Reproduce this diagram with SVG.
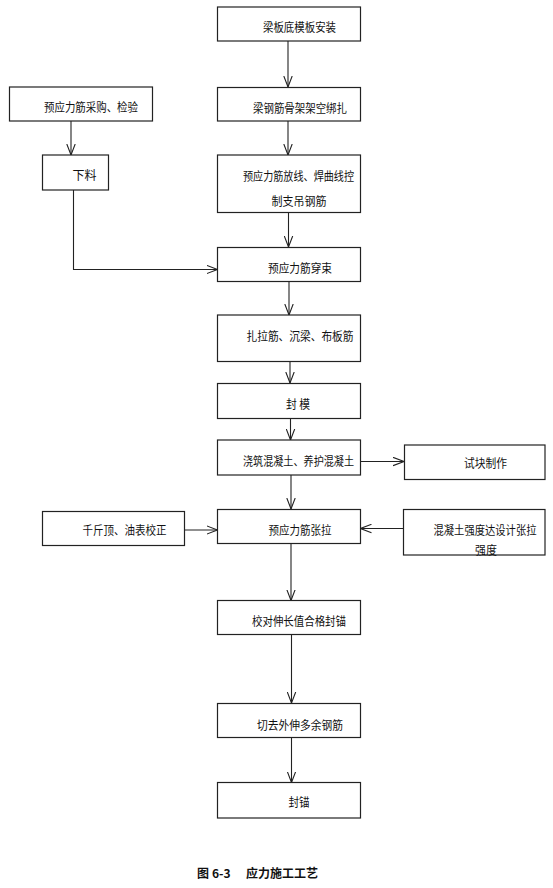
<svg xmlns="http://www.w3.org/2000/svg" width="553" height="888" viewBox="0 0 553 888">
<defs>
<style>
.box{fill:#fff;stroke:#222;stroke-width:1.2}
.t{font-family:"Noto Sans CJK SC","Liberation Sans",sans-serif;font-size:12px;fill:#111}
.c{fill:none;stroke:#222;stroke-width:1.1}
.cap{font-family:"Noto Sans CJK SC","Liberation Sans",sans-serif;font-size:12px;font-weight:bold;fill:#111}
</style>
<marker id="ah" viewBox="0 0 12 10" refX="11" refY="5" markerWidth="12" markerHeight="10" markerUnits="userSpaceOnUse" orient="auto">
<path d="M0,0.8 L11,5 L0,9.2" fill="none" stroke="#222" stroke-width="1.1"/>
</marker>
</defs>
<rect width="553" height="888" fill="#fff"/>
<g id="connectors">
<line class="c" x1="288" y1="41" x2="288" y2="87" marker-end="url(#ah)"/>
<line class="c" x1="71" y1="121" x2="71" y2="155" marker-end="url(#ah)"/>
<line class="c" x1="288" y1="121" x2="288" y2="155" marker-end="url(#ah)"/>
<line class="c" x1="288.5" y1="212.5" x2="288.5" y2="247" marker-end="url(#ah)"/>
<polyline class="c" points="73.5,190 73.5,269.5 217.5,269.5" marker-end="url(#ah)"/>
<line class="c" x1="289" y1="282" x2="289" y2="315" marker-end="url(#ah)"/>
<line class="c" x1="290" y1="362" x2="290" y2="383" marker-end="url(#ah)"/>
<line class="c" x1="290.5" y1="418.5" x2="290.5" y2="440" marker-end="url(#ah)"/>
<line class="c" x1="361" y1="461.5" x2="404" y2="461.5" marker-end="url(#ah)"/>
<line class="c" x1="291" y1="475" x2="291" y2="509" marker-end="url(#ah)"/>
<line class="c" x1="184.5" y1="530" x2="217.5" y2="530" marker-end="url(#ah)"/>
<line class="c" x1="403.5" y1="528.5" x2="360.5" y2="528.5" marker-end="url(#ah)"/>
<line class="c" x1="291" y1="543.5" x2="291" y2="600.5" marker-end="url(#ah)"/>
<line class="c" x1="291.5" y1="634.5" x2="291.5" y2="703" marker-end="url(#ah)"/>
<line class="c" x1="291.5" y1="738" x2="291.5" y2="782.5" marker-end="url(#ah)"/>
</g>
<g id="n1"><rect class="box" x="217.5" y="7" width="143" height="34"/><text class="t" x="263" y="31.5" textLength="73" lengthAdjust="spacingAndGlyphs">梁板底模板安装</text></g>
<g id="n2"><rect class="box" x="217.5" y="87.5" width="143" height="33.5"/><text class="t" x="253" y="112.5" textLength="94" lengthAdjust="spacingAndGlyphs">梁钢筋骨架架空绑扎</text></g>
<g id="n3"><rect class="box" x="9.5" y="87" width="143" height="34"/><text class="t" x="44" y="111.5" textLength="94" lengthAdjust="spacingAndGlyphs">预应力筋采购、检验</text></g>
<g id="n4"><rect class="box" x="42.5" y="155" width="66" height="35"/><text class="t" x="72.5" y="179.5" textLength="24" lengthAdjust="spacingAndGlyphs">下料</text></g>
<g id="n5"><rect class="box" x="217.5" y="155" width="143" height="57.5"/><text class="t" x="243" y="180.5" textLength="111" lengthAdjust="spacingAndGlyphs">预应力筋放线、焊曲线控</text><text class="t" x="271.5" y="205.5" textLength="55" lengthAdjust="spacingAndGlyphs">制支吊钢筋</text></g>
<g id="n6"><rect class="box" x="217.5" y="247.5" width="143" height="34"/><text class="t" x="268" y="272.5" textLength="64" lengthAdjust="spacingAndGlyphs">预应力筋穿束</text></g>
<g id="n7"><rect class="box" x="217.5" y="315" width="143" height="46.5"/><text class="t" x="246.5" y="340.5" textLength="107" lengthAdjust="spacingAndGlyphs">扎拉筋、沉梁、布板筋</text></g>
<g id="n8"><rect class="box" x="217.5" y="383.5" width="143" height="35"/><text class="t" x="286" y="408.5" textLength="24" lengthAdjust="spacingAndGlyphs">封 模</text></g>
<g id="n9"><rect class="box" x="217.5" y="440" width="143" height="35"/><text class="t" x="243" y="466" textLength="111" lengthAdjust="spacingAndGlyphs">浇筑混凝土、养护混凝土</text></g>
<g id="n10"><rect class="box" x="404.5" y="445" width="140.5" height="34.5"/><text class="t" x="464" y="467.5" textLength="43" lengthAdjust="spacingAndGlyphs">试块制作</text></g>
<g id="n11"><rect class="box" x="42.5" y="511.5" width="142" height="34"/><text class="t" x="82.5" y="534.5" textLength="84" lengthAdjust="spacingAndGlyphs">千斤顶、油表校正</text></g>
<g id="n12"><rect class="box" x="217.5" y="509.5" width="143" height="34"/><text class="t" x="268.5" y="534.5" textLength="63" lengthAdjust="spacingAndGlyphs">预应力筋张拉</text></g>
<g id="n13"><rect class="box" x="403.5" y="509.5" width="141.5" height="45.5"/><text class="t" x="433.5" y="534.5" textLength="103" lengthAdjust="spacingAndGlyphs">混凝土强度达设计张拉</text><text class="t" x="475" y="555" textLength="22" lengthAdjust="spacingAndGlyphs">强度</text></g>
<g id="n14"><rect class="box" x="217.5" y="600.5" width="143" height="34"/><text class="t" x="252" y="626" textLength="94" lengthAdjust="spacingAndGlyphs">校对伸长值合格封锚</text></g>
<g id="n15"><rect class="box" x="217.5" y="703.5" width="143" height="34"/><text class="t" x="257" y="729.5" textLength="86" lengthAdjust="spacingAndGlyphs">切去外伸多余钢筋</text></g>
<g id="n16"><rect class="box" x="217.5" y="782.5" width="143" height="35.5"/><text class="t" x="288.5" y="807" textLength="21" lengthAdjust="spacingAndGlyphs">封锚</text></g>
<text class="cap" x="197" y="878"><tspan>图</tspan><tspan x="212">6-3</tspan><tspan x="246">应力施工工艺</tspan></text>
</svg>
